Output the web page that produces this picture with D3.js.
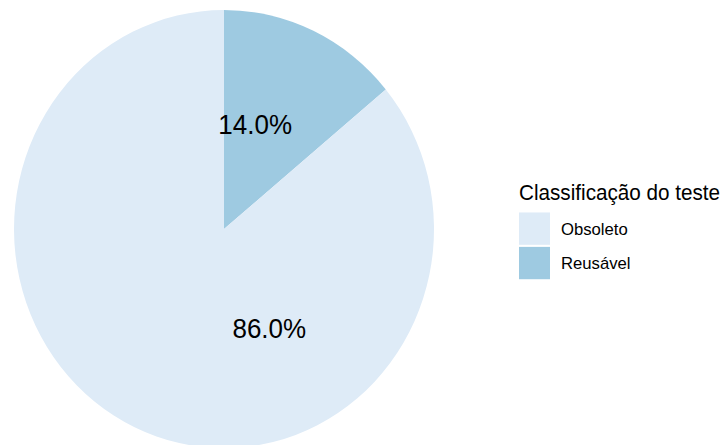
<!DOCTYPE html>
<html>
<head>
<meta charset="utf-8">
<script src="https://cdn.jsdelivr.net/npm/d3@7"></script>
<style>
  html, body { margin: 0; padding: 0; background: #ffffff; }
  svg { display: block; }
  text { font-family: "Liberation Sans", Arial, Helvetica, sans-serif; }
</style>
</head>
<body>
<svg id="chart" width="722" height="445"></svg>
<script>
// Test classification shares (percent)
const categories = ["Obsoleto", "Reusável"];
const values = [86, 14];
const labels = ["86.0%", "14.0%"];
// Where each percentage label sits along the circle, in percent units
const labelAt = [42.9, 4.8];
const colors = ["#DEEBF7", "#9ECAE1"];
const legendTitle = "Classificação do teste";

const W = 722, H = 445;
const yStretch = 1.043;           // plot is drawn slightly taller than wide
const R = 210;
const cx = 224, cy = 219.6;

const svg = d3.select("#chart");
const root = svg.append("g").attr("transform", `scale(1, ${yStretch})`);

const color = d3.scaleOrdinal().domain(categories).range(colors);

// Pie: Reusável starts at 12 o'clock and runs clockwise
const rows = categories.map((c, i) => ({ cat: c, value: values[i], label: labels[i], at: labelAt[i] }));
const pie = d3.pie().value(d => d.value).sort(null);
const arcs = pie(rows.slice().reverse());
const arc = d3.arc().innerRadius(0).outerRadius(R);

const g = root.append("g").attr("transform", `translate(${cx},${cy})`);
g.selectAll("path")
  .data(arcs)
  .join("path")
  .attr("d", arc)
  .attr("fill", d => color(d.data.cat));

// Percentage labels
const theta = d3.scaleLinear().domain([0, 100]).range([0, 2 * Math.PI]);
const labelR = R * 0.5;
g.selectAll("text.pct")
  .data(rows)
  .join("text")
  .attr("class", "pct")
  .attr("x", d => labelR * Math.sin(theta(d.at)))
  .attr("y", d => -labelR * Math.cos(theta(d.at)))
  .attr("dy", "0.36em")
  .attr("text-anchor", "middle")
  .attr("font-size", 26)
  .attr("fill", "#000")
  .text(d => d.label);

// Legend
const lg = root.append("g").attr("transform", "translate(519,0)");
lg.append("text")
  .attr("x", 0)
  .attr("y", 192.2)
  .attr("font-size", 20.7)
  .attr("fill", "#000")
  .text(legendTitle);

const key = 31, step = 33, keyTop = 203.7;
const items = lg.selectAll("g.item")
  .data(categories)
  .join("g")
  .attr("class", "item")
  .attr("transform", (d, i) => `translate(0,${keyTop + i * step})`);
items.append("rect")
  .attr("width", key)
  .attr("height", key)
  .attr("fill", d => color(d));
items.append("text")
  .attr("x", 42)
  .attr("y", key / 2)
  .attr("dy", "0.36em")
  .attr("font-size", 16.7)
  .attr("fill", "#000")
  .text(d => d);
</script>
</body>
</html>
